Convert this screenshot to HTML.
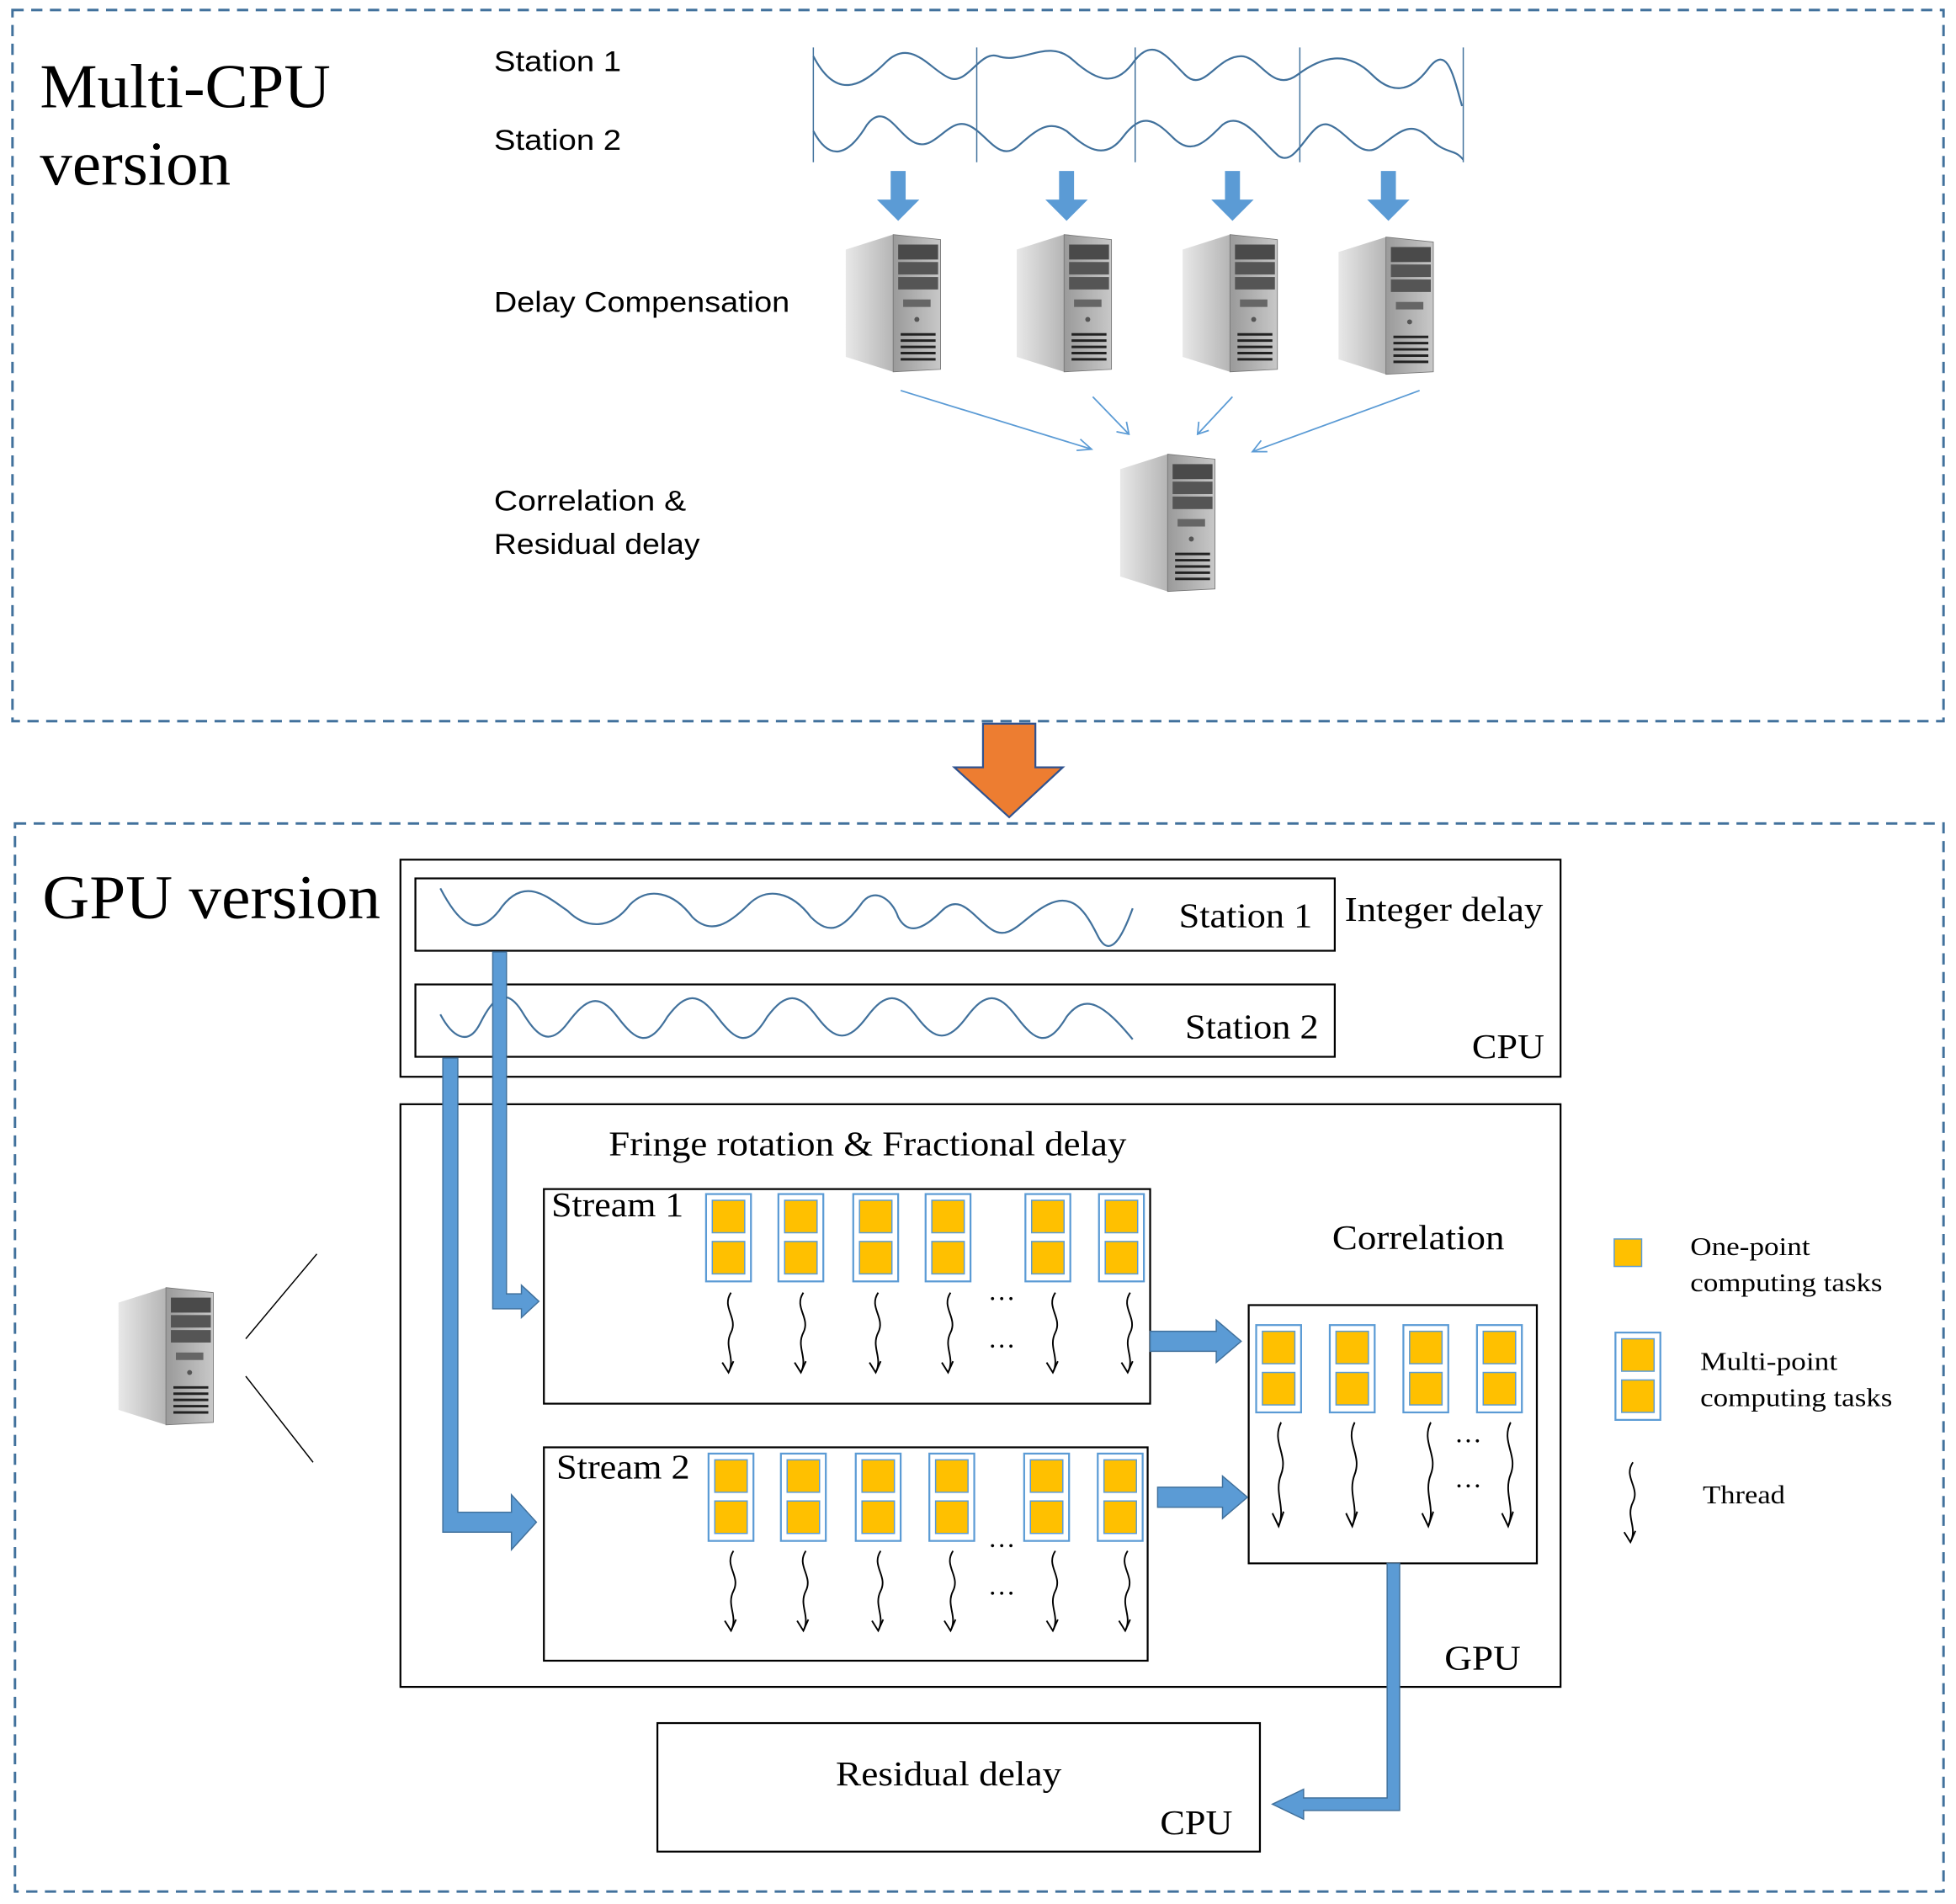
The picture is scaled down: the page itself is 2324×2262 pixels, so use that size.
<!DOCTYPE html>
<html><head><meta charset="utf-8"><style>html,body{margin:0;padding:0;background:#fff}svg{display:block}</style></head>
<body>
<svg width="2324" height="2262" viewBox="0 0 1568 1526" preserveAspectRatio="none" xmlns="http://www.w3.org/2000/svg">
<defs>
<linearGradient id="side" x1="0" x2="1"><stop offset="0" stop-color="#e8e8e8"/><stop offset="1" stop-color="#b5b5b5"/></linearGradient>
<linearGradient id="front" x1="0" x2="1"><stop offset="0" stop-color="#9a9a9a"/><stop offset="1" stop-color="#c8c8c8"/></linearGradient>
<g id="pc">
<polygon points="0,12 38,0 38,110 0,98" fill="url(#side)"/>
<polygon points="38,0 76,4 76,108 38,110" fill="url(#front)" stroke="#777" stroke-width="0.6"/>
<rect x="42" y="8" width="32" height="12" fill="#4a4a4a"/>
<rect x="42" y="22" width="32" height="10" fill="#555"/>
<rect x="42" y="34" width="32" height="10" fill="#555"/>
<rect x="46" y="52" width="22" height="6" fill="#666"/>
<circle cx="57" cy="68" r="2" fill="#555"/>
<g stroke="#222" stroke-width="2"><line x1="44" y1="80" x2="72" y2="80"/><line x1="44" y1="85" x2="72" y2="85"/><line x1="44" y1="90" x2="72" y2="90"/><line x1="44" y1="95" x2="72" y2="95"/><line x1="44" y1="100" x2="72" y2="100"/></g>
</g>
<g id="col"><rect x="0" y="0" width="36" height="70" fill="#fff" stroke="#5b9bd5" stroke-width="1.5"/><rect x="5" y="5" width="26" height="26" fill="#ffc000" stroke="#5b9bd5" stroke-width="1"/><rect x="5" y="38" width="26" height="26" fill="#ffc000" stroke="#5b9bd5" stroke-width="1"/></g>
<g id="th" fill="none" stroke="#000" stroke-width="1.3"><path d="M4,0 C-4,12 10,20 4,32 C-2,44 8,52 2,64"/><path d="M-3,56 L2,64 L6,55"/></g>
</defs>

<rect x="10" y="8" width="1548" height="570" fill="none" stroke="#41719c" stroke-width="2" stroke-dasharray="9,6"/>
<text x="32" y="86" font-family="Liberation Serif" font-size="50" textLength="233" lengthAdjust="spacingAndGlyphs">Multi-CPU</text>
<text x="32" y="148" font-family="Liberation Serif" font-size="50" textLength="153" lengthAdjust="spacingAndGlyphs">version</text>
<g font-family="Liberation Sans" font-size="23" lengthAdjust="spacingAndGlyphs">
<text x="396" y="57" textLength="102" lengthAdjust="spacingAndGlyphs">Station 1</text><text x="396" y="120" textLength="102" lengthAdjust="spacingAndGlyphs">Station 2</text>
<text x="396" y="250" textLength="237" lengthAdjust="spacingAndGlyphs">Delay Compensation</text>
<text x="396" y="409" textLength="154" lengthAdjust="spacingAndGlyphs">Correlation &amp;</text><text x="396" y="444" textLength="165" lengthAdjust="spacingAndGlyphs">Residual delay</text>
</g>
<g stroke="#41719c" stroke-width="1" fill="none">
<line x1="652" y1="38" x2="652" y2="130"/><line x1="783" y1="38" x2="783" y2="130"/><line x1="910" y1="38" x2="910" y2="130"/><line x1="1042" y1="38" x2="1042" y2="130"/><line x1="1173" y1="38" x2="1173" y2="130"/>
<path stroke-width="1.5" d="M652,45 C670,80 690,70 710,50 C730,30 745,55 760,62 C775,70 785,40 800,45 C820,52 840,30 860,48 C880,66 895,70 910,48 C925,30 935,45 950,60 C965,75 975,45 995,45 C1010,45 1020,75 1040,60 C1060,45 1080,40 1100,60 C1115,75 1130,75 1145,55 C1160,35 1165,60 1172,85"/>
<path stroke-width="1.5" d="M652,105 C665,130 680,125 695,100 C710,80 720,110 735,115 C750,120 760,95 775,100 C790,105 800,130 815,118 C830,105 840,95 855,105 C870,118 885,130 900,110 C915,90 925,95 940,110 C955,125 965,115 980,100 C995,88 1010,112 1025,125 C1040,135 1050,95 1065,100 C1080,105 1090,128 1105,118 C1120,108 1130,95 1145,110 C1160,125 1165,118 1173,128"/>
</g>
<g fill="#5b9bd5">
<polygon points="714,137 726,137 726,160 737,160 720,177 703,160 714,160"/>
<polygon points="849,137 861,137 861,160 872,160 855,177 838,160 849,160"/>
<polygon points="982,137 994,137 994,160 1005,160 988,177 971,160 982,160"/>
<polygon points="1107,137 1119,137 1119,160 1130,160 1113,177 1096,160 1107,160"/>
</g>
<use href="#pc" x="678" y="188"/><use href="#pc" x="815" y="188"/><use href="#pc" x="948" y="188"/><use href="#pc" x="1073" y="190"/>
<use href="#pc" x="898" y="364"/>
<g stroke="#5b9bd5" stroke-width="1.2" fill="none">
<line x1="722" y1="313" x2="875" y2="360"/><path d="M863,361 L875,360 L866,352"/>
<line x1="876" y1="318" x2="905" y2="348"/><path d="M895,346 L905,348 L903,338"/>
<line x1="988" y1="318" x2="960" y2="348"/><path d="M961,338 L960,348 L969,345"/>
<line x1="1138" y1="313" x2="1004" y2="362"/><path d="M1011,353 L1004,362 L1016,362"/>
</g>

<polygon points="788,580 830,580 830,615 852,615 809,655 765,615 788,615" fill="#ed7d31" stroke="#2f528f" stroke-width="1.5"/>

<rect x="12" y="660" width="1546" height="856" fill="none" stroke="#41719c" stroke-width="2" stroke-dasharray="9,6"/>
<text x="34" y="736" font-family="Liberation Serif" font-size="50" textLength="271" lengthAdjust="spacingAndGlyphs">GPU version</text>

<g fill="none" stroke="#000" stroke-width="1.5">
<rect x="321" y="689" width="930" height="174"/>
<rect x="333" y="704" width="737" height="58"/>
<rect x="333" y="789" width="737" height="58"/>
<rect x="321" y="885" width="930" height="467"/>
<rect x="436" y="953" width="486" height="172"/>
<rect x="436" y="1160" width="484" height="171"/>
<rect x="1001" y="1046" width="231" height="207"/>
<rect x="527" y="1381" width="483" height="103"/>
<line x1="197" y1="1073" x2="254" y2="1005" stroke-width="1"/>
<line x1="197" y1="1103" x2="251" y2="1172" stroke-width="1"/>
</g>
<g stroke="#41719c" stroke-width="1.5" fill="none">
<path d="M353,712 C365,735 380,755 400,730 C420,700 440,720 455,730 C470,745 490,745 505,725 C520,710 540,715 555,735 C570,750 585,740 600,725 C615,710 635,715 650,735 C665,750 675,745 690,725 C700,710 715,720 720,735 C728,750 740,745 755,730 C770,715 780,735 795,745 C810,755 820,735 840,725 C860,715 870,730 880,750 C890,770 900,750 908,728"/>
<path d="M353,813 C362,830 375,840 385,820 C395,800 405,790 418,810 C430,830 440,840 455,820 C470,800 480,795 495,815 C510,835 520,840 535,815 C550,795 560,795 575,815 C590,835 600,840 615,815 C630,795 640,795 655,815 C670,835 680,835 695,815 C710,795 720,795 735,815 C750,835 760,835 775,815 C790,795 800,795 815,815 C830,835 840,840 855,815 C870,795 885,805 908,833"/>
</g>
<g font-family="Liberation Serif" font-size="28">
<text x="945" y="743" textLength="107" lengthAdjust="spacingAndGlyphs">Station 1</text><text x="950" y="832" textLength="107" lengthAdjust="spacingAndGlyphs">Station 2</text>
<text x="1078" y="738" textLength="159" lengthAdjust="spacingAndGlyphs">Integer delay</text>
<text x="1180" y="848" textLength="58" lengthAdjust="spacingAndGlyphs">CPU</text>
<text x="488" y="926" textLength="415" lengthAdjust="spacingAndGlyphs">Fringe rotation &amp; Fractional delay</text>
<text x="442" y="975" textLength="106" lengthAdjust="spacingAndGlyphs">Stream 1</text><text x="446" y="1185" textLength="107" lengthAdjust="spacingAndGlyphs">Stream 2</text>
<text x="1068" y="1001" textLength="138" lengthAdjust="spacingAndGlyphs">Correlation</text>
<text x="1158" y="1338" textLength="61" lengthAdjust="spacingAndGlyphs">GPU</text>
<text x="670" y="1431" textLength="181" lengthAdjust="spacingAndGlyphs">Residual delay</text>
<text x="930" y="1470" textLength="58" lengthAdjust="spacingAndGlyphs">CPU</text>
</g>
<g font-family="Liberation Serif" font-size="21">
<text x="1355" y="1006" textLength="96" lengthAdjust="spacingAndGlyphs">One-point</text><text x="1355" y="1035" textLength="154" lengthAdjust="spacingAndGlyphs">computing tasks</text>
<text x="1363" y="1098" textLength="110" lengthAdjust="spacingAndGlyphs">Multi-point</text><text x="1363" y="1127" textLength="154" lengthAdjust="spacingAndGlyphs">computing tasks</text>
<text x="1365" y="1205" textLength="66" lengthAdjust="spacingAndGlyphs">Thread</text>
</g>
<g fill="#5b9bd5" stroke="#41719c" stroke-width="1">
<polygon points="395,763 406,763 406,1037 418,1037 418,1030 432,1043 418,1056 418,1049 395,1049"/>
<polygon points="355,848 367,848 367,1212 410,1212 410,1198 430,1220 410,1242 410,1228 355,1228"/>
<polygon points="922,1067 975,1067 975,1058 995,1075 975,1092 975,1083 922,1083"/>
<polygon points="928,1192 980,1192 980,1183 1000,1200 980,1217 980,1208 928,1208"/>
<polygon points="1112,1253 1122,1253 1122,1451 1045,1451 1045,1458 1020,1446 1045,1434 1045,1441 1112,1441"/>
</g>
<use href="#col" x="566" y="957"/><use href="#col" x="624" y="957"/><use href="#col" x="684" y="957"/><use href="#col" x="742" y="957"/><use href="#col" x="822" y="957"/><use href="#col" x="881" y="957"/>
<use href="#th" x="582" y="1036"/><use href="#th" x="640" y="1036"/><use href="#th" x="700" y="1036"/><use href="#th" x="758" y="1036"/><use href="#th" x="842" y="1036"/><use href="#th" x="902" y="1036"/>
<use href="#col" x="568" y="1165"/><use href="#col" x="626" y="1165"/><use href="#col" x="686" y="1165"/><use href="#col" x="745" y="1165"/><use href="#col" x="821" y="1165"/><use href="#col" x="880" y="1165"/>
<use href="#th" x="584" y="1243"/><use href="#th" x="642" y="1243"/><use href="#th" x="702" y="1243"/><use href="#th" x="760" y="1243"/><use href="#th" x="842" y="1243"/><use href="#th" x="900" y="1243"/>
<use href="#col" x="1007" y="1062"/><use href="#col" x="1066" y="1062"/><use href="#col" x="1125" y="1062"/><use href="#col" x="1184" y="1062"/>
<g><use href="#th" x="1023" y="1140" transform="translate(1023,1140) scale(1,1.3) translate(-1023,-1140)"/><use href="#th" x="1082" y="1140" transform="translate(1082,1140) scale(1,1.3) translate(-1082,-1140)"/><use href="#th" x="1143" y="1140" transform="translate(1143,1140) scale(1,1.3) translate(-1143,-1140)"/><use href="#th" x="1207" y="1140" transform="translate(1207,1140) scale(1,1.3) translate(-1207,-1140)"/></g>
<g font-family="Liberation Serif" font-size="22">
<text x="792" y="1042">…</text><text x="792" y="1080">…</text>
<text x="792" y="1240">…</text><text x="792" y="1278">…</text>
<text x="1166" y="1156">…</text><text x="1166" y="1192">…</text>
</g>
<rect x="1294" y="993" width="22" height="22" fill="#ffc000" stroke="#5b9bd5" stroke-width="1"/>
<use href="#col" x="1295" y="1068"/>
<use href="#th" x="1305" y="1172"/>
<use href="#pc" x="95" y="1032"/>
</svg>
</body></html>
